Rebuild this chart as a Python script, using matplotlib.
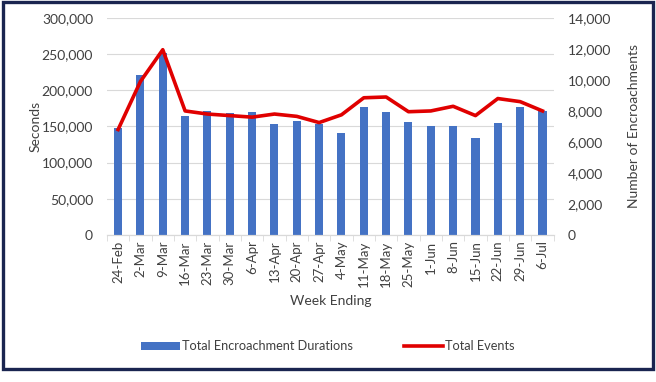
import matplotlib.pyplot as plt
import matplotlib.patches as mpatches
from matplotlib.ticker import FuncFormatter
import numpy as np

plt.rcParams['font.family'] = ['Lato', 'DejaVu Sans']

# --- Data ---
weeks = ['24-Feb', '2-Mar', '9-Mar', '16-Mar', '23-Mar', '30-Mar', '6-Apr',
         '13-Apr', '20-Apr', '27-Apr', '4-May', '11-May', '18-May', '25-May',
         '1-Jun', '8-Jun', '15-Jun', '22-Jun', '29-Jun', '6-Jul']
durations = [148000, 221000, 252000, 165000, 172000, 168000, 170000,
             153000, 157000, 153000, 141000, 177000, 170000, 156000,
             151000, 150000, 134000, 155000, 177000, 171000]
events = [6800, 9900, 11950, 8000, 7800, 7700, 7600,
          7800, 7650, 7250, 7750, 8850, 8900, 7950,
          8000, 8300, 7700, 8800, 8600, 8000]

bar_color = '#4472C4'
line_color = '#E00000'
text_color = '#404040'
grid_color = '#D9D9D9'

fig = plt.figure(figsize=(6.56, 3.82), dpi=100)
fig.patch.set_facecolor('white')
ax = fig.add_axes([0.163, 0.385, 0.681, 0.568])
ax2 = ax.twinx()

x = np.arange(len(weeks))
ax.bar(x, durations, width=0.36, color=bar_color, zorder=2,
       label='Total Encroachment Durations')
ax2.plot(x, events, color=line_color, linewidth=2.6, zorder=3,
         label='Total Events')

ax.set_xlim(-0.5, len(weeks) - 0.5)
ax.set_ylim(0, 300000)
ax.set_yticks(np.arange(0, 300001, 50000))
ax.yaxis.set_major_formatter(FuncFormatter(lambda v, p: f'{int(v):,}'))
ax2.set_ylim(0, 14000)
ax2.set_yticks(np.arange(0, 14001, 2000))
ax2.yaxis.set_major_formatter(FuncFormatter(lambda v, p: f'{int(v):,}'))

ax.grid(axis='y', color=grid_color, linewidth=0.8, zorder=0)
ax.set_axisbelow(True)

ax.set_xticks(x)
ax.set_xticklabels(weeks, rotation=90, fontsize=9.5, color=text_color)
ax.set_xticks(np.arange(-0.5, len(weeks)), minor=True)
ax.tick_params(axis='x', which='major', length=0, pad=4)
ax.tick_params(axis='x', which='minor', length=4, color=grid_color)
ax.tick_params(axis='y', length=0, labelsize=10, colors=text_color, pad=10)
ax2.tick_params(axis='y', length=0, labelsize=10, colors=text_color, pad=10)

for a in (ax, ax2):
    for s in ('top', 'right', 'left'):
        a.spines[s].set_visible(False)
    a.spines['bottom'].set_color(grid_color)

ax.set_ylabel('Seconds', fontsize=10, color=text_color, labelpad=0)
ax2.set_ylabel('Number of Encroachments', fontsize=10, color=text_color, labelpad=12)
ax.set_xlabel('Week Ending', fontsize=10, color=text_color, labelpad=6)

h1, l1 = ax.get_legend_handles_labels()
h2, l2 = ax2.get_legend_handles_labels()
fig.legend(h1 + h2, l1 + l2, loc='center', bbox_to_anchor=(0.5, 0.094),
           ncol=2, frameon=False, fontsize=9.2, labelcolor=text_color,
           handlelength=3.0, handleheight=0.6, handletextpad=0.2,
           columnspacing=4.0)

# dark frame around the chart area
fig.add_artist(mpatches.Rectangle((0.004, 0.035), 0.992, 0.959,
                                  transform=fig.transFigure, fill=False,
                                  edgecolor='#1A2550', linewidth=2.4))

fig.savefig('out.png', dpi=100, facecolor='white')
